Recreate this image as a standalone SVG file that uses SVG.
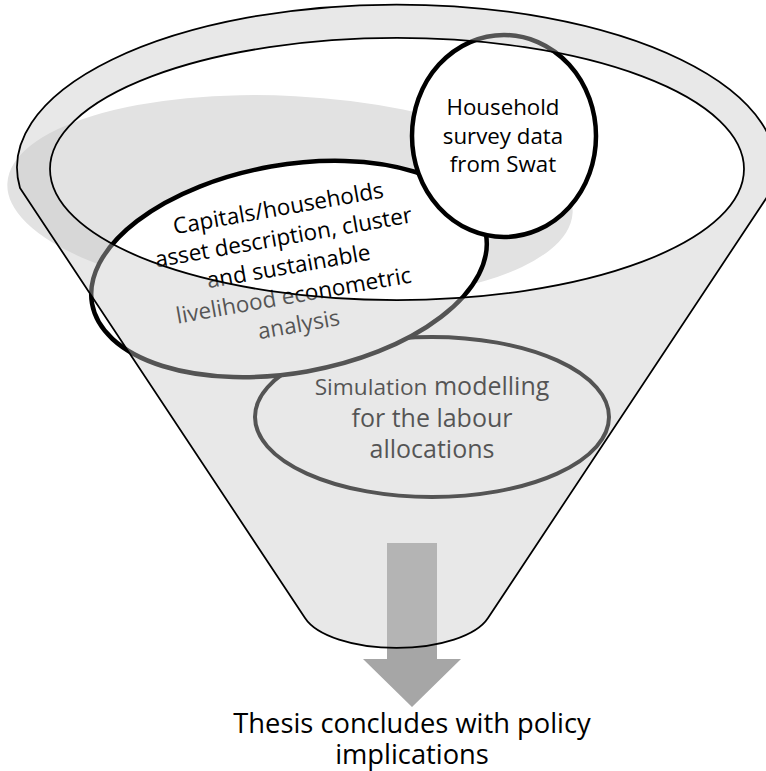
<svg xmlns="http://www.w3.org/2000/svg" width="766" height="771" viewBox="0 0 766 771">
<style>
  .node { fill:#ffffff; stroke:#000000; }
  .t { font-family:"Open Sans","Noto Sans","Liberation Sans",sans-serif; fill:#000000; text-anchor:middle; }
  .outline { fill:none; stroke:#000000; stroke-width:1.75; stroke-linejoin:round; }
</style>
<defs>
  <path id="silhouette" d="M20,188 L305,618 A95,41 0 0 0 488,618 L773,188 A379.5,163 0 1 0 20,188 Z"/>
  <path id="inner" d="M50,169 A347,131 0 1 0 744,169 A347,131 0 1 0 50,169 Z"/>
</defs>
<rect x="0" y="0" width="766" height="771" fill="#ffffff"/>

<g id="funnel-shadow">
  <ellipse cx="290" cy="198" rx="283" ry="102" transform="rotate(3 290 198)" fill="#e2e2e2"/>
</g>

<g id="node-simulation">
  <ellipse class="node" cx="432" cy="417" rx="177" ry="80" stroke-width="4"/>
  <text class="t" x="432" y="394.5" font-size="25"><tspan font-size="22.7">Simulation</tspan> modelling</text>
  <text class="t" x="432" y="426.7" font-size="25">for the labour</text>
  <text class="t" x="432" y="458.3" font-size="25">allocations</text>
</g>

<g id="node-capitals" transform="rotate(-10 289 269)">
  <ellipse class="node" cx="289" cy="269" rx="200" ry="104" stroke-width="4.5"/>
  <text class="t" x="289" y="215" font-size="22.5">Capitals/households</text>
  <text class="t" x="289" y="244.5" font-size="22.5">asset description, cluster</text>
  <text class="t" x="289" y="274" font-size="22.5">and sustainable</text>
  <text class="t" x="289" y="303.5" font-size="22.5">livelihood econometric</text>
  <text class="t" x="289" y="333" font-size="22.5">analysis</text>
</g>

<g id="node-household">
  <ellipse class="node" cx="504" cy="136" rx="92" ry="101" stroke-width="4.5"/>
  <text class="t" x="503" y="115" font-size="22.3">Household</text>
  <text class="t" x="503" y="143.5" font-size="22.3">survey data</text>
  <text class="t" x="503" y="172" font-size="22.3">from Swat</text>
</g>

<g id="connectors">
  <polygon points="387,543 437,543 437,659 461,659 412,707 363,659 387,659" fill="#a6a6a6"/>
</g>

<g id="funnel-overlay">
  <path d="M20,188 L305,618 A95,41 0 0 0 488,618 L773,188 A379.5,163 0 1 0 20,188 Z M50,169 A347,131 0 1 0 744,169 A347,131 0 1 0 50,169 Z" fill="rgb(200,200,200)" fill-opacity="0.42" fill-rule="evenodd"/>
</g>

<g id="funnel-outline">
  <use href="#silhouette" class="outline"/>
  <use href="#inner" class="outline"/>
</g>

<g id="node-conclusion">
  <text class="t" x="412" y="733" font-size="27.3">Thesis concludes with policy</text>
  <text class="t" x="412" y="764" font-size="27.3">implications</text>
</g>
</svg>
